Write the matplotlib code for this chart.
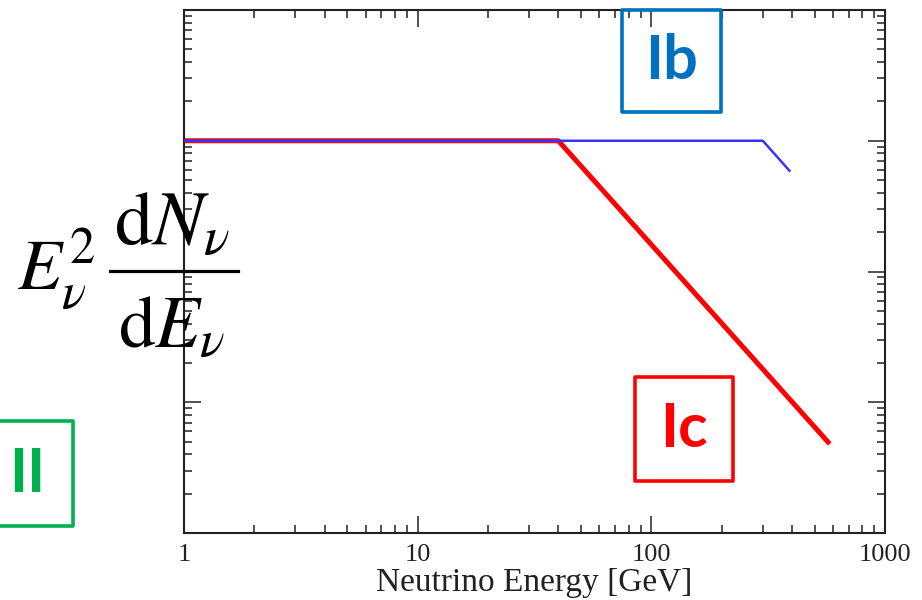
import matplotlib
matplotlib.use("Agg")
from matplotlib import pyplot as plt
from matplotlib.patches import Rectangle
from matplotlib.lines import Line2D
from matplotlib.ticker import LogLocator, NullFormatter

# spectrum shapes, E^2 dN/dE (arbitrary units)
ic_energy = [1, 40, 580]
ic_flux = [1.0, 1.0, 0.0048]
ib_energy = [1, 300, 390]
ib_flux = [1.0, 1.0, 0.59]

x_ticks = [1, 10, 100, 1000]
x_tick_labels = ["1", "10", "100", "1000"]

W, H = 922, 600
plt.rcParams["mathtext.fontset"] = "stix"
fig = plt.figure(figsize=(W / 100, H / 100), dpi=100)
ax = fig.add_axes([184 / W, 1 - 533 / H, (885 - 184) / W, (533 - 10) / H])

ax.plot(ic_energy, ic_flux, color="#ff0000", lw=3.6, solid_capstyle="butt", zorder=2)
ax.plot(ib_energy, ib_flux, color="#3535ff", lw=1.8, zorder=3)

ax.set_xscale("log")
ax.set_yscale("log")
ax.set_xlim(1, 1000)
ax.set_ylim(1e-3, 10)

ax.set_xticks(x_ticks, x_tick_labels, fontsize=19, family="Liberation Serif", color="#222222")
ax.xaxis.set_minor_locator(LogLocator(base=10, subs=range(2, 10)))
ax.xaxis.set_minor_formatter(NullFormatter())
ax.yaxis.set_major_locator(LogLocator(base=10, numticks=10))
ax.yaxis.set_minor_locator(LogLocator(base=10, subs=range(2, 10), numticks=10))
ax.yaxis.set_major_formatter(NullFormatter())
ax.yaxis.set_minor_formatter(NullFormatter())

ax.tick_params(which="both", direction="in", top=True, right=True, color="#222222", width=1.1)
ax.tick_params(which="major", length=12)
ax.tick_params(which="minor", length=6)
ax.tick_params(axis="x", pad=8)
for sp in ax.spines.values():
    sp.set_linewidth(1.5)
    sp.set_color("#222222")

ax.set_xlabel("Neutrino Energy [GeV]", family="Liberation Serif", fontsize=24,
              color="#222222", labelpad=1)


def px(x, y):
    return x / W, 1 - y / H


def piece(x, y, s, size):
    # one bit of the y label, (x, y) = left end of its baseline in pixels
    fig.text(*px(x, y), s, fontsize=size, ha="left", va="baseline", color="black")


# y-axis label E_nu^2 dN_nu/dE_nu: three math texts and a fraction bar
piece(17, 290, r"$E_{\nu}^{2}$", 52)
piece(114, 245, r"$\mathrm{d}N_{\nu}$", 55)
piece(118, 348, r"$\mathrm{d}E_{\nu}$", 53)
fig.add_artist(Line2D([110 / W, 238 / W], [1 - 271 / H, 1 - 271 / H],
                      transform=fig.transFigure, color="black", lw=2.3))


def label_box(x0, y0, x1, y1, text, color, tx=None):
    # box given in pixel coords from top-left
    rect = Rectangle((x0 / W, 1 - y1 / H), (x1 - x0) / W, (y1 - y0) / H,
                     transform=fig.transFigure, fill=False, edgecolor=color,
                     lw=2.6, joinstyle="round", zorder=10)
    fig.add_artist(rect)
    if tx is None:
        tx = (x0 + x1) / 2
    fig.text(tx / W, 1 - (y0 + y1) / 2 / H, text, color=color,
             fontsize=44, fontweight="bold", family="Lato",
             ha="center", va="center", zorder=11)


label_box(622, 10, 721, 112, "Ib", "#0070c0")
label_box(635, 377, 733, 481, "Ic", "#ff0000")
label_box(-5, 421, 73, 526, "II", "#00b050", tx=27)

fig.savefig("out.png", dpi=100)
